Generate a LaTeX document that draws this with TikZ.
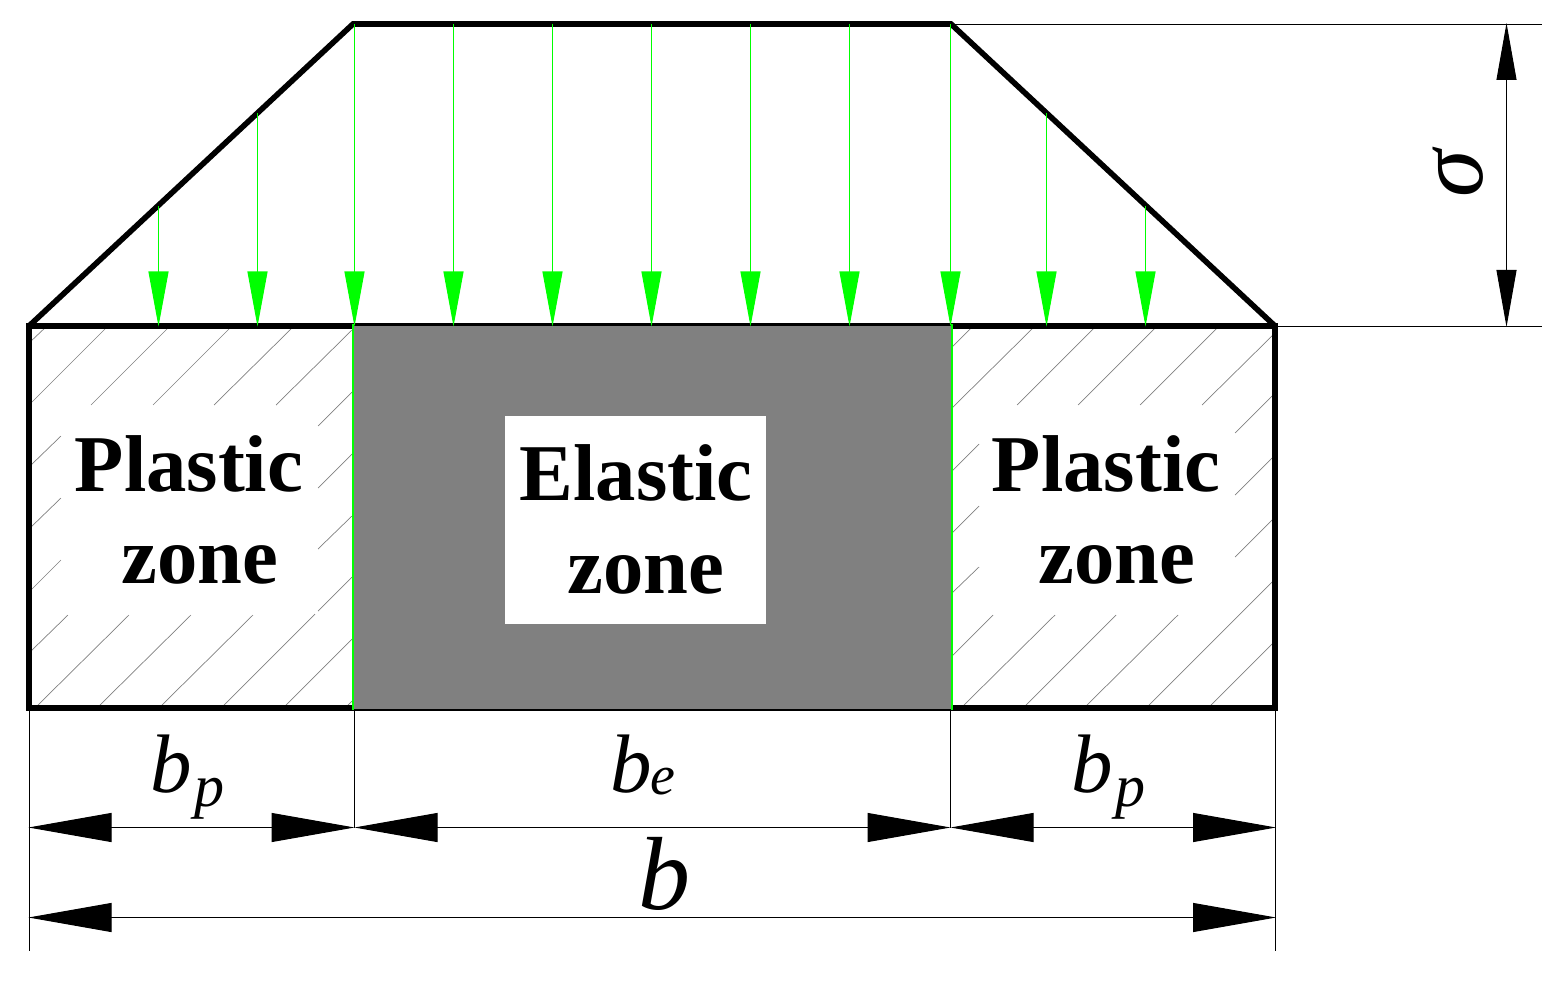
\documentclass[tikz,border=0pt]{standalone}
\usepackage{fontspec}
\setmainfont{Liberation Serif}
\usetikzlibrary{arrows.meta}
\definecolor{loadgreen}{RGB}{0,255,0}
\definecolor{hatchgrey}{RGB}{128,128,128}
\tikzset{
  thickline/.style={line width=2.8pt,line join=miter,line cap=butt},
  dimline/.style={line width=0.5pt,black},
  dimarrow/.style={line width=0.5pt,black,{Triangle[length=41.5pt,width=14.5pt]}-{Triangle[length=41.5pt,width=14.5pt]}},
  vdimarrow/.style={line width=0.5pt,black,{Triangle[length=28.5pt,width=10pt]}-{Triangle[length=28.5pt,width=10pt]}},
  loadarrow/.style={line width=0.55pt,loadgreen,-{Triangle[length=27.5pt,width=10pt]}},
  hatchline/.style={line width=0.35pt,hatchgrey},
  zonetext/.style={font=\fontsize{40.3}{44}\selectfont\bfseries,inner sep=0pt,anchor=base},
  symb/.style={font=\fontsize{41.5}{44}\selectfont\itshape,inner sep=0pt,anchor=base},
  subsymb/.style={font=\fontsize{30}{32}\selectfont\itshape,inner sep=0pt,anchor=base},
  bigsymb/.style={font=\fontsize{52}{56}\selectfont\itshape,inner sep=0pt,anchor=base},
}
\begin{document}
\begin{tikzpicture}[x=0.5pt,y=-0.5pt]
\useasboundingbox (0,0) rectangle (1568,984);
% key points
\coordinate (tl) at (29,326); \coordinate (ttl) at (353,24); \coordinate (ttr) at (951,24); \coordinate (tr) at (1275,326);
\coordinate (bl) at (29,708); \coordinate (br) at (1275,708);
\coordinate (el) at (353,708); \coordinate (er) at (951,708);
\coordinate (ebl) at (352.5,710); \coordinate (ebr) at (952,710);
% hatching
\foreach \a/\b/\c/\d in {
 29/343/47/326, 29/405/108/326, 91/405/170/326, 153/405/232/326, 214/405/294/326, 276/405/352/330,
 318/426/352/392, 318/488/352/454, 318/549/352/516,
 29/467/61/436, 29/529/61/498, 29/592/61/560, 29/653/68/615,
 36/707/129/615, 98/707/191/615, 160/707/253/615, 222/707/315/614, 318/611/352/577, 284/707/352/639, 346/707/352/701,
 952/347/973/326, 952/408/1035/326, 1017/405/1095/327, 1078/405/1156/327, 1140/405/1219/326, 1202/405/1275/333,
 1235/433/1276/392, 1235/495/1276/454, 1235/557/1276/516,
 952/471/979/444, 952/533/979/506, 952/593/979/567, 952/656/993/615,
 962/707/1055/615, 1024/707/1116/615, 1085/707/1178/615, 1147/707/1276/578, 1209/707/1276/640, 1271/707/1276/702}
 {\draw[hatchline] (\a,\b) -- (\c,\d);}
% outline
\draw[thickline] (tl) -- (ttl) -- (ttr) -- (tr);
\draw[thickline] (el) -- (bl) -- (tl) -- (tr) -- (br) -- (er);
% elastic core
\coordinate (gt) at (353.5,326); \coordinate (gb) at (951,709);
\fill[hatchgrey] (gt) rectangle (gb);
\fill[white] (505,416) rectangle (766,624);
\coordinate (gl) at (352.5,324); \coordinate (gr) at (952,324);
\draw[line width=1pt,black] (352,710) -- (952,710);
\draw[line width=1pt,loadgreen] (gl) -- (ebl);
\draw[line width=1pt,loadgreen] (gr) -- (ebr);
% load arrows
\foreach \n/\x/\y in {a/158.5/206, b/257.5/113, c/354.5/24, d/453.5/24, e/552.5/24, f/651.5/24, g/750.5/24, h/849.5/24, i/950.5/24, j/1046.5/113, k/1145.5/206}{
  \coordinate (s\n) at (\x,\y); \coordinate (e\n) at (\x,326.5);
  \draw[loadarrow] (s\n) -- (e\n);
}
% extension lines
\coordinate (xa) at (29.5,951); \coordinate (xd) at (1275.5,951);
\coordinate (xb) at (354.5,827.5); \coordinate (xc) at (950.5,827.5);
\coordinate (xb0) at (354.5,710); \coordinate (xc0) at (950.5,710);
\coordinate (xa0) at (29.5,710); \coordinate (xd0) at (1275.5,710);
\coordinate (ra0) at (951,24.5); \coordinate (rb0) at (1277,326.5);
\coordinate (ra) at (1542,24.5); \coordinate (rb) at (1542,326.5);
\draw[dimline] (xa0) -- (xa);
\draw[dimline] (xb0) -- (xb);
\draw[dimline] (xc0) -- (xc);
\draw[dimline] (xd0) -- (xd);
\draw[dimline] (ra0) -- (ra);
\draw[dimline] (rb0) -- (rb);
% dimensions
\coordinate (d1) at (28.5,827.5); \coordinate (d4) at (1276,827.5);
\coordinate (t1) at (28.5,917.5); \coordinate (t2) at (1276,917.5);
\coordinate (v1) at (1506.5,23); \coordinate (v2) at (1506.5,327);
\draw[dimarrow] (d1) -- (xb);
\draw[dimarrow] (xb) -- (xc);
\draw[dimarrow] (xc) -- (d4);
\draw[dimarrow] (t1) -- (t2);
\draw[vdimarrow] (v1) -- (v2);
% labels
\node[zonetext] (pl1) at (189,491) {Plastic};
\node[zonetext] (zn1) at (200,583) {zone};
\node[zonetext] (el1) at (636,500) {Elastic};
\node[zonetext] (zn2) at (646,593) {zone};
\node[zonetext] (pl2) at (1106,491) {Plastic};
\node[zonetext] (zn3) at (1117,583) {zone};
\node[symb] (b1) at (171,792) {b};
\node[subsymb] (p1) at (209,806) {p};
\node[symb] (b2) at (643,792) {b\kern-0.5pt{\fontsize{28}{30}\selectfont\raisebox{-1pt}{e}}};
\node[symb] (b3) at (1092,792) {b};
\node[subsymb] (p3) at (1130,806) {p};
\node[bigsymb] (b4) at (664,909) {b};
\node[symb,rotate=90,font=\fontsize{48}{50}\selectfont\itshape] (sg) at (1482,174) {σ};
\end{tikzpicture}
\end{document}
